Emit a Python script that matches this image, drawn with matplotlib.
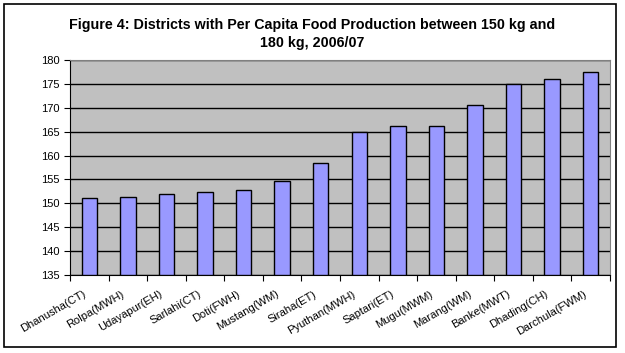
import matplotlib
matplotlib.use("Agg")
import matplotlib.pyplot as plt
import matplotlib.transforms as mtransforms
import numpy as np
from matplotlib.patches import Rectangle

plt.rcParams['font.family'] = ['Liberation Sans', 'DejaVu Sans']

districts = ["Dhanusha(CT)", "Rolpa(MWH)", "Udayapur(EH)", "Sarlahi(CT)",
             "Doti(FWH)", "Mustang(WM)", "Siraha(ET)", "Pyuthan(MWH)",
             "Saptari(ET)", "Mugu(MWM)", "Marang(WM)", "Banke(MWT)",
             "Dhading(CH)", "Darchula(FWM)"]
food_kg = [151.1, 151.3, 151.9, 152.3, 152.7, 154.6, 158.4,
           164.9, 166.1, 166.1, 170.5, 174.9, 176.0, 177.4]
yticks = list(range(135, 181, 5))

fig = plt.figure(figsize=(6.25, 3.53), dpi=100)
fig.patches.append(Rectangle((4 / 625, 6 / 353), 612 / 625, 343 / 353,
                             transform=fig.transFigure, fill=False,
                             edgecolor='black', linewidth=1.2))

ax = fig.add_axes([70 / 625, 78 / 353, 540 / 625, 215 / 353])
ax.set_facecolor('#C0C0C0')

x = np.arange(len(districts))
ax.bar(x, [v - 135 for v in food_kg], bottom=135, width=0.4,
       color='#9999FF', edgecolor='black', linewidth=1.0, zorder=3)

ax.set_xlim(-0.5, len(districts) - 0.5)
ax.set_ylim(135, 180)
ax.set_yticks(yticks)
ax.yaxis.grid(True, color='black', linewidth=1.0, zorder=1)
ax.set_axisbelow(True)
ax.tick_params(axis='y', labelsize=8, length=4, direction='out')

# category boundaries get the ticks, the names sit under the bars
ax.set_xticks(np.arange(len(districts) + 1) - 0.5)
ax.set_xticklabels([])
ax.tick_params(axis='x', length=4, direction='out')
ax.set_xticks(x, minor=True)
ax.set_xticklabels(districts, minor=True, rotation=30, ha='right',
                   rotation_mode='anchor', fontsize=8)
ax.tick_params(axis='x', which='minor', length=0, pad=10)
shift = mtransforms.ScaledTranslation(-7 / 100, 0, fig.dpi_scale_trans)
for lbl in ax.get_xticklabels(minor=True):
    lbl.set_transform(lbl.get_transform() + shift)

for side in ['top', 'right']:
    ax.spines[side].set_color('#808080')
for side in ['left', 'bottom']:
    ax.spines[side].set_color('black')

fig.text(0.5, 0.904, "Figure 4: Districts with Per Capita Food Production between 150 kg and\n180 kg, 2006/07",
         ha='center', va='center', fontsize=10.3, fontweight='bold', linespacing=1.4)

fig.savefig("out.png", dpi=100)
